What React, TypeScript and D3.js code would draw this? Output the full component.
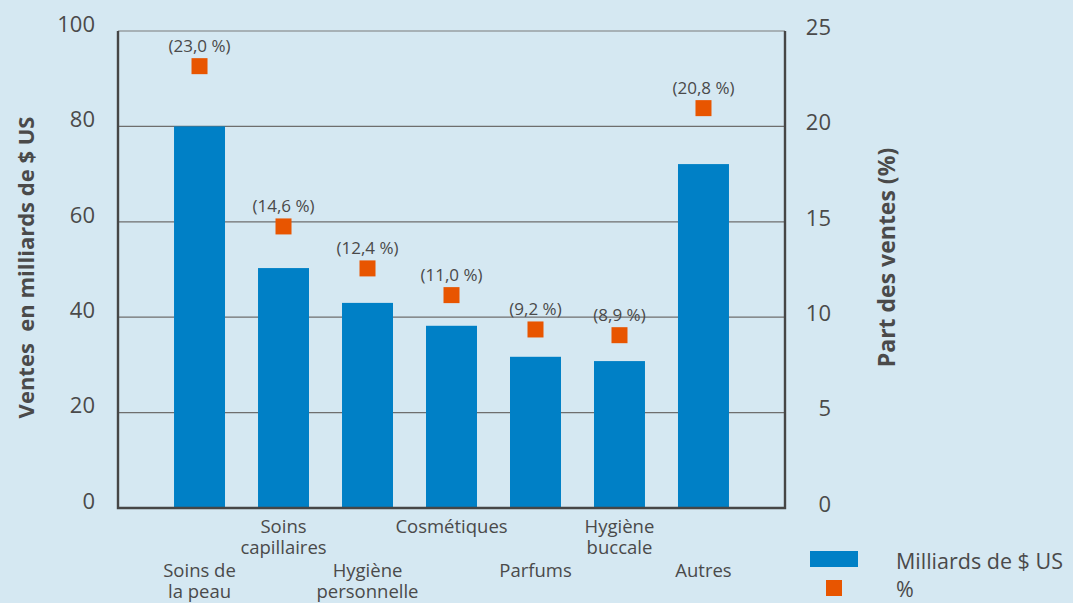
import { useEffect, useRef } from 'react'
import * as d3 from 'd3'

const categories: string[][] = [
  ['Soins de', 'la peau'],
  ['Soins', 'capillaires'],
  ['Hygiène', 'personnelle'],
  ['Cosmétiques'],
  ['Parfums'],
  ['Hygiène', 'buccale'],
  ['Autres'],
]
const sales = [80, 50.3, 43, 38.2, 31.7, 30.8, 72.1]
const shares = [23.0, 14.6, 12.4, 11.0, 9.2, 8.9, 20.8]
const leftTicks = [0, 20, 40, 60, 80, 100]
const rightTicks = [0, 5, 10, 15, 20, 25]

const WIDTH = 1073
const HEIGHT = 603
const BG = '#d5e8f2'
const BLUE = '#0080c6'
const ORANGE = '#e85500'
const TEXT = '#4a4a4a'
const FONT = "'Open Sans', 'Noto Sans', sans-serif"

export default function App() {
  const svgRef = useRef<SVGSVGElement>(null)

  useEffect(() => {
    document.body.style.margin = '0'
    const svg = d3.select(svgRef.current)
    svg.selectAll('*').remove()

    const m = { top: 31, right: 288, bottom: 95, left: 118 }
    const x0 = m.left
    const x1 = WIDTH - m.right
    const y0 = HEIGHT - m.bottom
    const y1 = m.top

    const ids = categories.map((_, i) => String(i))
    const x = d3.scaleBand().domain(ids).range([x0, x1]).paddingInner(0.393).paddingOuter(0.667)
    const yL = d3.scaleLinear().domain([0, 100]).range([y0, y1])
    // right axis in the source sits a few pixels higher than the left one
    const yR = d3.scaleLinear().domain([0, 25]).range([y0 - 3, y1 - 3])

    svg.append('rect').attr('width', WIDTH).attr('height', HEIGHT).attr('fill', BG)

    // grid
    svg
      .append('g')
      .selectAll('line')
      .data(leftTicks.filter((d) => d > 0 && d < 100))
      .join('line')
      .attr('x1', x0)
      .attr('x2', x1)
      .attr('y1', (d) => yL(d))
      .attr('y2', (d) => yL(d))
      .attr('stroke', '#6e6e6e')
      .attr('stroke-width', 1.2)

    svg
      .append('line')
      .attr('x1', x0)
      .attr('x2', x1)
      .attr('y1', y1)
      .attr('y2', y1)
      .attr('stroke', '#7a7a7a')
      .attr('stroke-width', 1.2)

    // bars
    svg
      .append('g')
      .selectAll('rect')
      .data(sales)
      .join('rect')
      .attr('x', (_, i) => x(String(i))!)
      .attr('width', x.bandwidth())
      .attr('y', (d) => yL(d))
      .attr('height', (d) => y0 - yL(d))
      .attr('fill', BLUE)

    // axes lines
    svg
      .append('path')
      .attr('d', `M${x0},${y1}V${y0}H${x1}V${y1}`)
      .attr('fill', 'none')
      .attr('stroke', '#464646')
      .attr('stroke-width', 2.4)

    // markers
    const ms = 16
    svg
      .append('g')
      .selectAll('rect')
      .data(shares)
      .join('rect')
      .attr('x', (_, i) => x(String(i))! + x.bandwidth() / 2 - ms / 2)
      .attr('y', (d) => yR(d) - ms / 2)
      .attr('width', ms)
      .attr('height', ms)
      .attr('fill', ORANGE)

    svg
      .append('g')
      .selectAll('text')
      .data(shares)
      .join('text')
      .attr('x', (_, i) => x(String(i))! + x.bandwidth() / 2)
      .attr('y', (d) => yR(d) - 20)
      .attr('dy', '0.35em')
      .attr('text-anchor', 'middle')
      .attr('font-family', FONT)
      .attr('font-size', 17)
      .attr('fill', TEXT)
      .text((d) => `(${d.toFixed(1).replace('.', ',')} %)`)

    // left ticks
    svg
      .append('g')
      .selectAll('text')
      .data(leftTicks)
      .join('text')
      .attr('x', 95)
      .attr('y', (d) => yL(d) - 7)
      .attr('dy', '0.35em')
      .attr('text-anchor', 'end')
      .attr('font-family', FONT)
      .attr('font-size', 22)
      .attr('fill', TEXT)
      .text((d) => d)

    // right ticks
    svg
      .append('g')
      .selectAll('text')
      .data(rightTicks)
      .join('text')
      .attr('x', 831)
      .attr('y', (d) => yR(d) - 1)
      .attr('dy', '0.35em')
      .attr('text-anchor', 'end')
      .attr('font-family', FONT)
      .attr('font-size', 22)
      .attr('fill', TEXT)
      .text((d) => d)

    // category labels, staggered in two rows
    const cat = svg
      .append('g')
      .selectAll('text')
      .data(categories)
      .join('text')
      .attr('text-anchor', 'middle')
      .attr('font-family', FONT)
      .attr('font-size', 18.5)
      .attr('fill', TEXT)
    cat
      .selectAll('tspan')
      .data((d, i) => d.map((line, j) => ({ line, j, i })))
      .join('tspan')
      .attr('x', (d) => x(String(d.i))! + x.bandwidth() / 2)
      .attr('y', (d) => (d.i % 2 === 0 ? 571 : 527) + d.j * 21)
      .attr('dy', '0.35em')
      .text((d) => d.line)

    // axis titles
    svg
      .append('text')
      .attr('transform', `translate(26,${(y0 + y1) / 2 - 2}) rotate(-90)`)
      .attr('text-anchor', 'middle')
      .attr('dy', '0.35em')
      .attr('font-family', FONT)
      .attr('font-size', 22)
      .attr('font-weight', 'bold')
      .attr('fill', TEXT)
      .style('white-space', 'pre')
      .text('Ventes  en milliards de $ US')

    svg
      .append('text')
      .attr('transform', `translate(887,${(y0 + y1) / 2 - 12}) rotate(-90)`)
      .attr('text-anchor', 'middle')
      .attr('dy', '0.35em')
      .attr('font-family', FONT)
      .attr('font-size', 23)
      .attr('font-weight', 'bold')
      .attr('fill', TEXT)
      .text('Part des ventes (%)')

    // legend
    const lg = svg.append('g')
    lg.append('rect').attr('x', 810).attr('y', 551).attr('width', 48).attr('height', 16).attr('fill', BLUE)
    lg.append('rect').attr('x', 826).attr('y', 580).attr('width', 16).attr('height', 16).attr('fill', ORANGE)
    lg.append('text')
      .attr('x', 896)
      .attr('y', 561)
      .attr('dy', '0.35em')
      .attr('font-family', FONT)
      .attr('font-size', 21.5)
      .attr('fill', TEXT)
      .text('Milliards de $ US')
    lg.append('text')
      .attr('x', 896)
      .attr('y', 589)
      .attr('dy', '0.35em')
      .attr('font-family', FONT)
      .attr('font-size', 21.5)
      .attr('fill', TEXT)
      .text('%')
  }, [])

  return <svg ref={svgRef} width={WIDTH} height={HEIGHT} style={{ display: 'block' }} />
}
